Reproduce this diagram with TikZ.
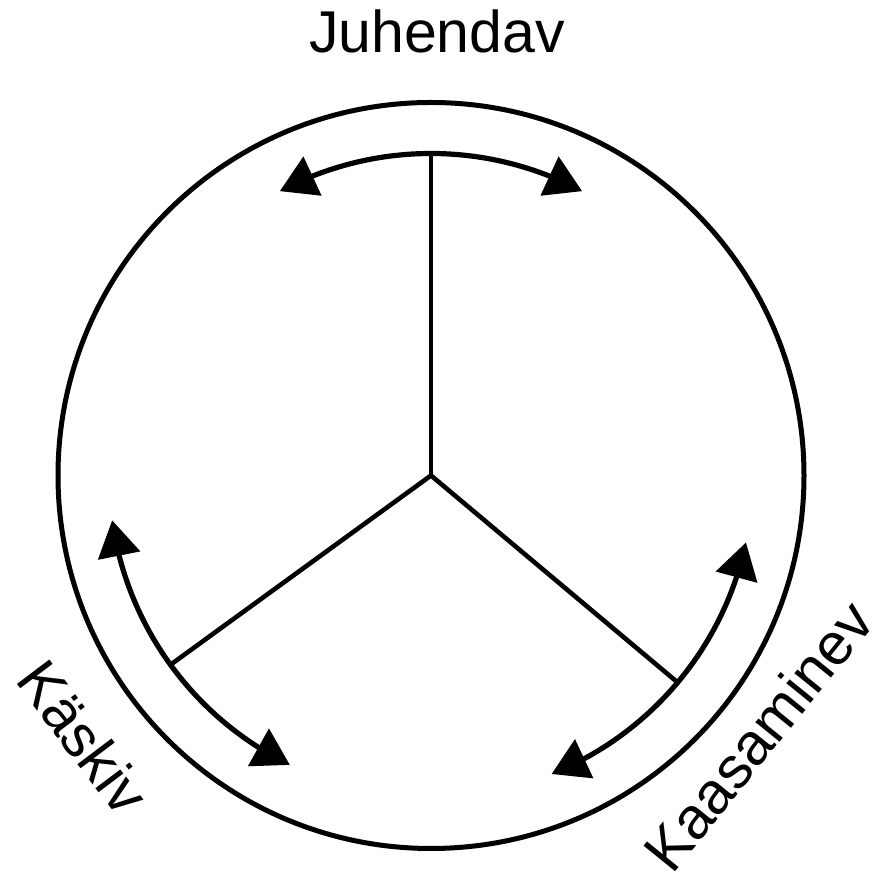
\documentclass[tikz,border=0pt]{standalone}
\usepackage{fontspec}
\setmainfont{Liberation Sans}
\usetikzlibrary{arrows.meta,bending,calc}
\begin{document}
\begin{tikzpicture}[x=1pt,y=1pt,
  ring/.style={line width=5pt},
  spoke/.style={line width=4.6pt},
  swing/.style={line width=5.2pt,
    {Triangle[length=36pt,width=42pt]}-{Triangle[length=36pt,width=42pt]}},
  wordlabel/.style={inner sep=0pt, font=\fontsize{59}{70}\selectfont}]
\useasboundingbox (0,0) rectangle (884,872);

% centre and outer ring
\coordinate (O) at (431,396.5);
\node[ring, draw, circle, minimum size=746pt, inner sep=0pt] (ring) at (O) {};

% three spokes meeting at the centre
\coordinate (T) at ($(O)+(90:322)$);
\coordinate (L) at ($(O)+(216:322)$);
\coordinate (R) at ($(O)+(320:322)$);
\draw[spoke] (O) -- (T);
\draw[spoke] (O) -- (L);
\draw[spoke] (O) -- (R);

% double-headed arcs across each spoke end
\coordinate (Ta) at ($(O)+(118:322)$);
\coordinate (La) at ($(O)+(188:322)$);
\coordinate (Ra) at ($(O)+(292:322)$);
\draw[swing] (Ta) arc[start angle=118, end angle=62, radius=322];
\draw[swing] (La) arc[start angle=188, end angle=244, radius=322];
\draw[swing] (Ra) arc[start angle=292, end angle=348, radius=322];

% labels
\node[wordlabel, anchor=base] (juh) at (437,819) {Juhendav};
\node[wordlabel, rotate=-53] (kas) at ($(O)+(217:435)$) {Käskiv};
\node[wordlabel, rotate=51] (kaa) at ($(O)+(-38.5:418)$) {Kaasaminev};
\end{tikzpicture}
\end{document}
